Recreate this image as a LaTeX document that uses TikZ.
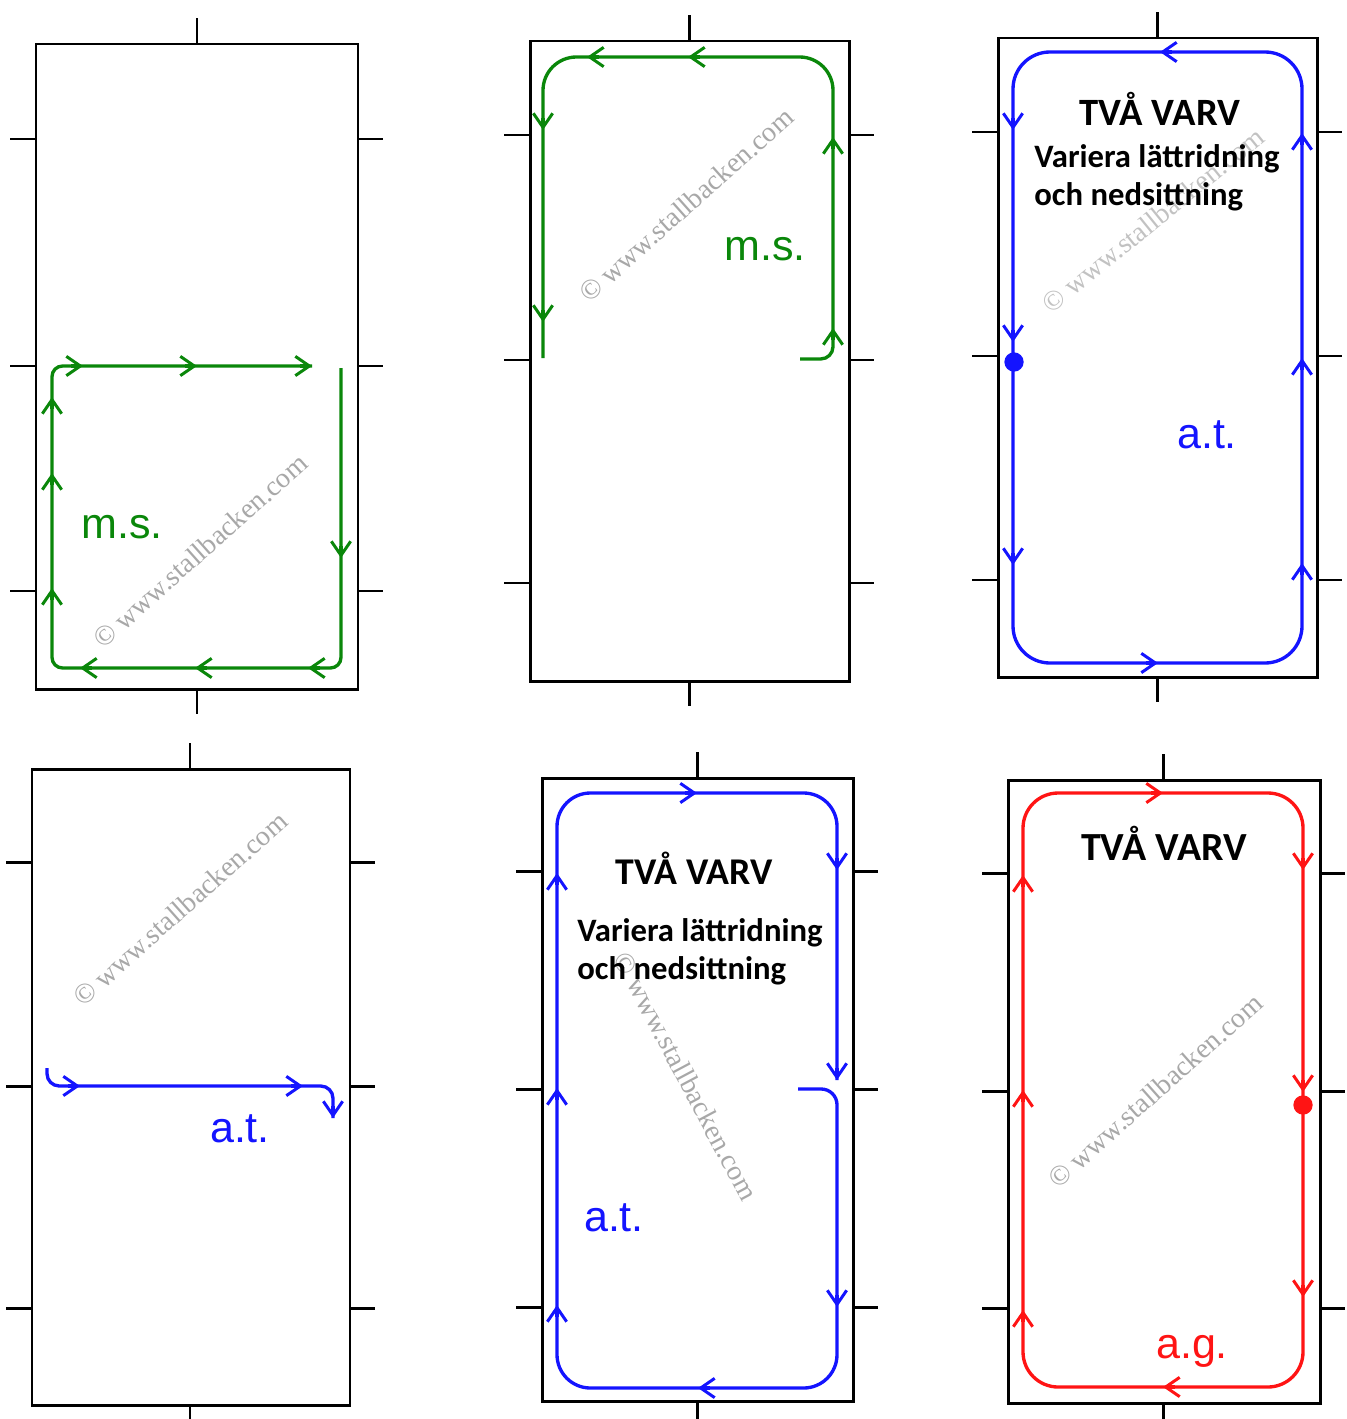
\documentclass[tikz,border=0pt]{standalone}
\usepackage{fontspec}
\setmainfont{Liberation Sans}
\newfontfamily\capfont{Carlito}
\newfontfamily\wmfont{Liberation Serif}
\usepackage{tikz}
\usetikzlibrary{arrows.meta}
\definecolor{msgreen}{HTML}{0A870A}
\definecolor{atblue}{HTML}{1414FF}
\definecolor{agred}{HTML}{FF1414}
\definecolor{wmgray}{HTML}{A8A8A8}
\tikzset{
  arena/.style={line width=1.7pt},
  track/.style={line width=1.9pt},
  tipend/.style={-{Straight Barb[length=8pt,width=11pt,line width=1.7pt]}},
  gait/.style={inner sep=0pt,font=\fontsize{24.5}{24.5}\selectfont},
  headline/.style={inner sep=0pt,font=\capfont\bfseries\fontsize{22}{22}\selectfont},
  note/.style={inner sep=0pt,align=left,anchor=north west,
    font=\capfont\bfseries\fontsize{18.6}{21.5}\selectfont},
  wmark/.style={inner sep=0pt,wmgray,font=\wmfont\fontsize{16}{16}\selectfont},
}
\begin{document}
\begin{tikzpicture}[x=0.02cm,y=-0.02cm]
  \useasboundingbox (0,0) rectangle (1346,1419);
  % Arenas with their letter ticks
  \foreach \l/\t/\r/\b/\cx/\ya/\yb/\yc in {
    36/44/358/689/197/139/366/591,
    530/41/849/681/689/135/360/583,
    998/38/1317/677/1157/132/356/580,
    32/769/350/1405/190/862/1086/1308,
    542/778/853/1401/697/871/1089/1307,
    1008/780/1320/1403/1163/873/1091/1308%
  }{
    \draw[arena] (\l,\t) rectangle (\r,\b);
    \draw[arena] (\cx,\t) -- (\cx,\t-26) (\cx,\b) -- (\cx,\b+25);
    \foreach \yy in {\ya,\yb,\yc}
      \draw[arena] (\l-26,\yy) -- (\l,\yy) (\r,\yy) -- (\r+25,\yy);
  }
  % Watermarks
  \node[wmark,rotate=41.6] (wm1) at (200,551) {© www.stallbacken.com};
  \node[wmark,rotate=41.6] (wm2) at (686,205) {© www.stallbacken.com};
  \node[wmark,rotate=39,opacity=0.7] (wm3) at (1153,220) {© www.stallbacken.com};
  \node[wmark,rotate=41.6] (wm4) at (180,909) {© www.stallbacken.com};
  \node[wmark,rotate=-62] (wm5) at (686,1076) {© www.stallbacken.com};
  \node[wmark,rotate=41.6] (wm6) at (1155,1091) {© www.stallbacken.com};
  % Arena 1 -- m.s.
  \draw[track,msgreen,rounded corners=6pt]
    (341,368) -- (341,668) -- (52,668) -- (52,366) -- (312,366);
  \foreach \x/\y/\dx/\dy in {52/588/0/-1,52/473/0/-1,52/397/0/-1,
      83/366/1/0,197/366/1/0,312/366/1/0,341/558/0/1,
      308/668/-1/0,195/668/-1/0,80/668/-1/0}
    \draw[track,tipend,msgreen] ({\x-12*(\dx)},{\y-12*(\dy)}) -- (\x,\y);
  \node[gait,msgreen] (ms1) at (122,527) {m.s.};
  % Arena 2 -- m.s.
  \draw[track,msgreen,rounded corners=7pt] (800,359) -- (833,359)
    [rounded corners=19pt] -- (833,57) -- (543,57) -- (543,358);
  \foreach \x/\y/\dx/\dy in {833/328/0/-1,833/137/0/-1,688/57/-1/0,
      587/57/-1/0,543/130/0/1,543/322/0/1}
    \draw[track,tipend,msgreen] ({\x-12*(\dx)},{\y-12*(\dy)}) -- (\x,\y);
  \node[gait,msgreen] (ms2) at (765,249) {m.s.};
  % Arena 3 -- a.t., two rounds
  \draw[track,atblue,rounded corners=21pt] (1013,52) rectangle (1302,663);
  \foreach \x/\y/\dx/\dy in {1160/52/-1/0,1013/130/0/1,1013/342/0/1,
      1013/565/0/1,1158/663/1/0,1302/563/0/-1,1302/358/0/-1,1302/133/0/-1}
    \draw[track,tipend,atblue] ({\x-12*(\dx)},{\y-12*(\dy)}) -- (\x,\y);
  \fill[atblue] (1014,362) circle[radius=5.5pt];
  \node[headline] (tva3) at (1160,109) {TVÅ VARV};
  \node[note] (var3) at (1034,144) {Variera lättridning\\och nedsittning};
  \node[gait,atblue] (at3) at (1207,435) {a.t.};
  % Arena 4 -- a.t.
  \draw[track,atblue,rounded corners=7pt]
    (47,1068) -- (47,1086) -- (333,1086) -- (333,1118);
  \foreach \x/\y/\dx/\dy in {80/1086/1/0,303/1086/1/0,333/1118/0/1}
    \draw[track,tipend,atblue] ({\x-12*(\dx)},{\y-12*(\dy)}) -- (\x,\y);
  \node[gait,atblue] (at4) at (240,1129) {a.t.};
  % Arena 5 -- a.t., two rounds
  \draw[track,atblue,rounded corners=9pt] (798,1089) -- (837,1089)
    [rounded corners=19pt] -- (837,1388) -- (557,1388) -- (557,793)
    -- (837,793) -- (837,1080);
  \foreach \x/\y/\dx/\dy in {697/793/1/0,837/870/0/1,837/1080/0/1,
      837/1307/0/1,698/1388/-1/0,557/1305/0/-1,557/1088/0/-1,557/873/0/-1}
    \draw[track,tipend,atblue] ({\x-12*(\dx)},{\y-12*(\dy)}) -- (\x,\y);
  \node[headline,font=\capfont\bfseries\fontsize{21.5}{21.5}\selectfont]
    (tva5) at (694,868) {TVÅ VARV};
  \node[note] (var5) at (577,918) {Variera lättridning\\och nedsittning};
  \node[gait,atblue] (at5) at (614,1218) {a.t.};
  % Arena 6 -- a.g., two rounds
  \draw[track,agred,rounded corners=20pt] (1023,793) rectangle (1303,1387);
  \foreach \x/\y/\dx/\dy in {1163/793/1/0,1303/870/0/1,1303/1092/0/1,
      1303/1297/0/1,1163/1387/-1/0,1023/1310/0/-1,1023/1090/0/-1,1023/875/0/-1}
    \draw[track,tipend,agred] ({\x-12*(\dx)},{\y-12*(\dy)}) -- (\x,\y);
  \fill[agred] (1303,1105) circle[radius=5.5pt];
  \node[headline,font=\capfont\bfseries\fontsize{22.7}{22.7}\selectfont]
    (tva6) at (1164,843) {TVÅ VARV};
  \node[gait,agred] (ag6) at (1192,1351) {a.g.};
\end{tikzpicture}
\end{document}
